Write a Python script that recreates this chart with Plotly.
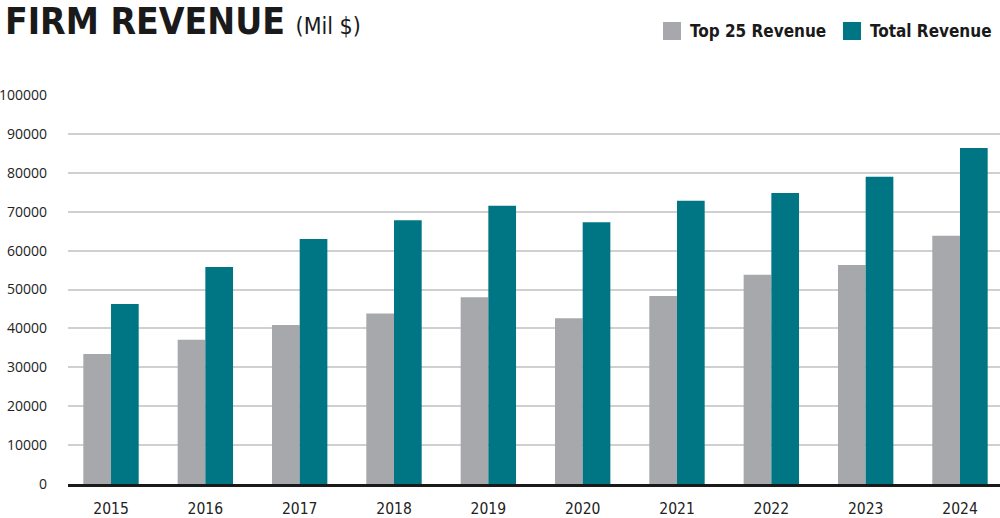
import plotly.graph_objects as go

years = ["2015", "2016", "2017", "2018", "2019", "2020", "2021", "2022", "2023", "2024"]
top25_revenue = [33400, 37100, 40900, 43800, 48000, 42600, 48300, 53800, 56300, 63800]
total_revenue = [46300, 55800, 63000, 67800, 71500, 67300, 72800, 74800, 79000, 86400]
y_ticks = [0, 10000, 20000, 30000, 40000, 50000, 60000, 70000, 80000, 90000, 100000]

GREY = "#a6a8ab"
TEAL = "#007684"
COND = "DejaVu Sans Condensed, Liberation Sans Narrow, Roboto, sans-serif"
REG = "Open Sans, Noto Sans, sans-serif"

fig = go.Figure()
fig.add_trace(go.Bar(x=years, y=top25_revenue, name="Top 25 Revenue",
                     marker=dict(color=GREY, line=dict(width=0)), showlegend=False))
fig.add_trace(go.Bar(x=years, y=total_revenue, name="Total Revenue",
                     marker=dict(color=TEAL, line=dict(width=0)), showlegend=False))

W, H = 1000, 518
L, R, T, B = 68, 0, 95, 34
pw = W - L - R
ph = H - T - B

def px(x):
    return (x - L) / pw

def py(y):
    return (H - B - y) / ph

fig.update_layout(
    width=W, height=H,
    margin=dict(l=L, r=R, t=T, b=B),
    paper_bgcolor="white", plot_bgcolor="white",
    barmode="group", bargap=0.413, bargroupgap=0,
    title=dict(
        text="<b>FIRM REVENUE</b> <span style='font-size:23px'>(Mil $)</span>",
        x=0.005, xanchor="left", xref="container",
        y=0.985, yanchor="top", yref="container",
        font=dict(family=COND, size=37, color="#1a1a1a"),
    ),
    xaxis=dict(
        type="category", range=[-0.456, 9.424],
        showline=True, linecolor="#1a1a1a", linewidth=3,
        showgrid=False, ticks="",
        tickfont=dict(family=COND, size=15.5, color="#222222"),
        ticklabelstandoff=8,
    ),
    yaxis=dict(
        range=[0, 100000], tickvals=y_ticks,
        ticktext=[str(v) for v in y_ticks],
        showgrid=True, gridcolor="#d0d0d0", gridwidth=1.5,
        zeroline=False, showline=False, ticks="",
        tickfont=dict(family=REG, size=14, color="#222222"),
        ticklabelstandoff=20,
    ),
    shapes=[
        dict(type="rect", xref="paper", yref="paper",
             x0=px(663), x1=px(681), y0=py(40), y1=py(22),
             fillcolor=GREY, line=dict(width=0)),
        dict(type="rect", xref="paper", yref="paper",
             x0=px(843), x1=px(861), y0=py(40), y1=py(22),
             fillcolor=TEAL, line=dict(width=0)),
    ],
    annotations=[
        dict(text="<b>Top 25 Revenue</b>", xref="paper", yref="paper",
             x=px(688), y=py(31), xanchor="left", yanchor="middle",
             showarrow=False, font=dict(family=COND, size=17, color="#1a1a1a")),
        dict(text="<b>Total Revenue</b>", xref="paper", yref="paper",
             x=px(868), y=py(31), xanchor="left", yanchor="middle",
             showarrow=False, font=dict(family=COND, size=17, color="#1a1a1a")),
    ],
)

fig.write_html(
    "out.html",
    config={"displayModeBar": False},
    post_script="document.body.style.margin='0';document.body.style.overflow='hidden';",
)
